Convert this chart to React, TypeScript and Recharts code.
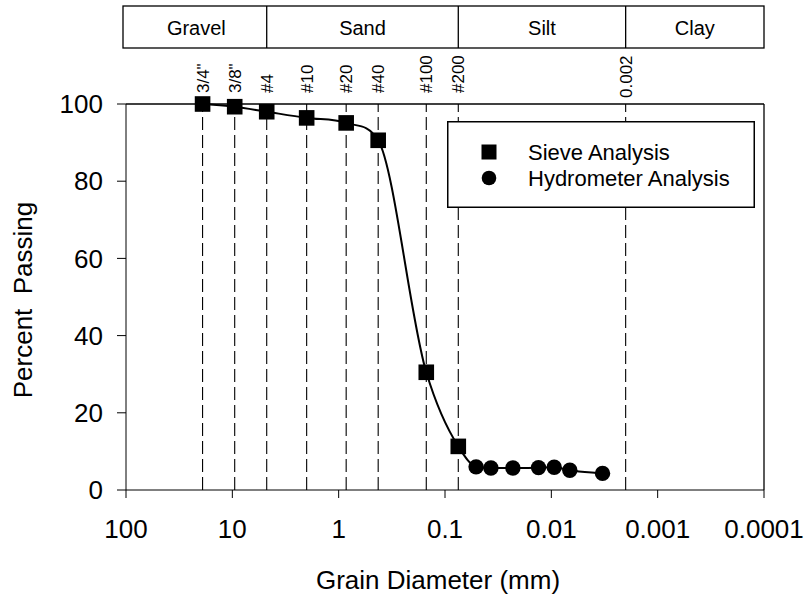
import React from 'react';
import { ComposedChart, Line, XAxis, YAxis, ReferenceLine, Legend } from 'recharts';

const FONT = '"Liberation Sans", Arial, Helvetica, sans-serif';

// sieve data (mm, % passing)
const sieveLabels = ['3/4"', '3/8"', '#4', '#10', '#20', '#40', '#100', '#200'];
const sieveSizes = [19.05, 9.5, 4.75, 2.0, 0.85, 0.425, 0.15, 0.075];
const sievePassing = [100, 99.3, 98.0, 96.4, 95.1, 90.6, 30.5, 11.3];

// hydrometer data
const hydroDiameters = [0.051, 0.037, 0.023, 0.0132, 0.0094, 0.0067, 0.0033];
const hydroPassing = [6.0, 5.7, 5.7, 5.8, 5.9, 5.1, 4.3];

const clayLimit = 0.002;
const soilClasses = ['Gravel', 'Sand', 'Silt', 'Clay'];
const classBounds = [100, 4.75, 0.075, 0.002, 0.0001];

const xTicks = [100, 10, 1, 0.1, 0.01, 0.001, 0.0001];
const yTicks = [0, 20, 40, 60, 80, 100];

const legendItems = [
  { name: 'Sieve Analysis', kind: 'sieve' },
  { name: 'Hydrometer Analysis', kind: 'hydro' },
];

const data = [
  ...sieveSizes.map((d, i) => ({ d, pct: sievePassing[i], kind: 'sieve' })),
  ...hydroDiameters.map((d, i) => ({ d, pct: hydroPassing[i], kind: 'hydro' })),
];

const guideLines = [
  ...sieveSizes.map((d, i) => ({ d, label: sieveLabels[i] })),
  { d: clayLimit, label: '0.002' },
];

const innerBounds = classBounds.slice(1, -1);

// cubic spline, 3-point tangents limited Fritsch-Carlson style (no overshoot)
const smoothCurve = (context: any) => {
  let xs: number[] = [];
  let ys: number[] = [];
  return {
    areaStart() {},
    areaEnd() {},
    lineStart() {
      xs = [];
      ys = [];
    },
    point(x: number, y: number) {
      xs.push(+x);
      ys.push(+y);
    },
    lineEnd() {
      const n = xs.length;
      if (!n) return;
      context.moveTo(xs[0], ys[0]);
      if (n === 1) return;
      const h: number[] = [];
      const s: number[] = [];
      for (let i = 0; i < n - 1; i++) {
        h[i] = xs[i + 1] - xs[i];
        s[i] = (ys[i + 1] - ys[i]) / h[i];
      }
      const t: number[] = [];
      for (let i = 0; i < n; i++) {
        if (i === 0) t[i] = s[0];
        else if (i === n - 1) t[i] = s[n - 2];
        else {
          const a = s[i - 1];
          const b = s[i];
          if (a * b <= 0) t[i] = 0;
          else {
            const p = (a * h[i] + b * h[i - 1]) / (h[i - 1] + h[i]);
            const lim = 3 * Math.min(Math.abs(a), Math.abs(b));
            t[i] = Math.sign(p) * Math.min(Math.abs(p), lim);
          }
        }
      }
      for (let i = 0; i < n - 1; i++) {
        const dx = h[i] / 3;
        context.bezierCurveTo(
          xs[i] + dx, ys[i] + dx * t[i],
          xs[i + 1] - dx, ys[i + 1] - dx * t[i + 1],
          xs[i + 1], ys[i + 1],
        );
      }
    },
  };
};

const renderDot = (p: any) => {
  const { cx, cy, payload, index } = p;
  if (cx == null || cy == null) return <g key={`dot-${index}`} />;
  if (payload.kind === 'sieve') {
    return <rect key={`dot-${index}`} x={cx - 7.8} y={cy - 7.8} width={15.6} height={15.6} fill="#000" />;
  }
  return <circle key={`dot-${index}`} cx={cx} cy={cy} r={7.7} fill="#000" />;
};

const GuideLabel = (props: any, text: string, d: number) => {
  const vb = props.viewBox || {};
  const x = vb.x;
  const bottom = d === clayLimit ? 98 : 93;
  return (
    <g>
      <text
        x={x + 6}
        y={bottom}
        transform={`rotate(-90, ${x + 6}, ${bottom})`}
        fontSize={17}
        fontFamily={FONT}
        fill="#000"
        textAnchor="start"
      >
        {text}
      </text>
      {innerBounds.includes(d) && (
        <line x1={x} x2={x} y1={6} y2={48} stroke="#000" strokeWidth={1.3} />
      )}
    </g>
  );
};

const ClassBox = (props: any) => {
  const vb = props.viewBox || {};
  return (
    <rect
      x={vb.x - 3}
      y={6}
      width={vb.width + 3}
      height={42}
      fill="none"
      stroke="#000"
      strokeWidth={1.3}
    />
  );
};

const ClassLabel = (props: any, text: string) => {
  const vb = props.viewBox || {};
  return (
    <text x={vb.x} y={35} fontSize={20} fontFamily={FONT} fill="#000" textAnchor="middle">
      {text}
    </text>
  );
};

const LegendBox = () => (
  <svg width={308} height={87} style={{ display: 'block' }}>
    <rect x={0.75} y={0.75} width={306.5} height={85.5} fill="#fff" stroke="#000" strokeWidth={1.5} />
    {legendItems.map((item, i) => {
      const cy = 31 + i * 26;
      return (
        <g key={item.name}>
          {item.kind === 'sieve' ? (
            <rect x={42 - 7.5} y={cy - 7.5} width={15} height={15} fill="#000" />
          ) : (
            <circle cx={42} cy={cy} r={7.3} fill="#000" />
          )}
          <text x={81} y={cy + 7.5} fontSize={22} fontFamily={FONT} fill="#000">
            {item.name}
          </text>
        </g>
      );
    })}
  </svg>
);

export default function App() {
  return (
    <div style={{ position: 'absolute', left: 0, top: 0, background: '#fff' }}>
      <ComposedChart
        width={809}
        height={599}
        data={data}
        margin={{ top: 104, right: 45, bottom: 0, left: 0 }}
      >
        <XAxis
          dataKey="d"
          type="number"
          scale="log"
          domain={[0.0001, 100]}
          allowDataOverflow
          reversed
          ticks={xTicks}
          tickFormatter={(v: number) => String(v)}
          tickSize={8}
          tickMargin={22}
          height={109}
          stroke="#000"
          tick={{ fill: '#000', fontSize: 26, fontFamily: FONT }}
          label={(p: any) => {
            const vb = p.viewBox || {};
            return (
              <text
                x={vb.x + vb.width / 2 - 7}
                y={vb.y + 99}
                fontSize={26}
                fontFamily={FONT}
                fill="#000"
                textAnchor="middle"
              >
                Grain Diameter (mm)
              </text>
            );
          }}
        />
        <YAxis
          type="number"
          domain={[0, 100]}
          ticks={yTicks}
          width={126}
          tickSize={9}
          tickMargin={14}
          stroke="#000"
          tick={{ fill: '#000', fontSize: 26, fontFamily: FONT }}
          label={(p: any) => {
            const vb = p.viewBox || {};
            const cy = vb.y + vb.height / 2 + 3;
            return (
              <text
                x={32}
                y={cy}
                transform={`rotate(-90, 32, ${cy})`}
                fontSize={26}
                fontFamily={FONT}
                fill="#000"
                textAnchor="middle"
              >
                {'Percent\u00A0\u00A0Passing'}
              </text>
            );
          }}
        />

        {guideLines.map((g) => (
          <ReferenceLine
            key={g.label}
            x={g.d}
            stroke="#000"
            strokeWidth={1.1}
            strokeDasharray="13 5"
            ifOverflow="visible"
            label={(p: any) => GuideLabel(p, g.label, g.d)}
          />
        ))}

        {soilClasses.map((name, i) => (
          <ReferenceLine
            key={name}
            x={Math.sqrt(classBounds[i] * classBounds[i + 1])}
            stroke="none"
            ifOverflow="visible"
            label={(p: any) => ClassLabel(p, name)}
          />
        ))}

        <ReferenceLine y={100} stroke="#000" strokeWidth={1.3} ifOverflow="visible" label={ClassBox} />
        <ReferenceLine x={0.0001} stroke="#000" strokeWidth={1.3} ifOverflow="visible" />

        <Legend
          layout="vertical"
          align="center"
          verticalAlign="middle"
          content={LegendBox}
          wrapperStyle={{ left: 447, top: 121, width: 308, height: 87 }}
        />

        <Line
          dataKey="pct"
          type={smoothCurve as any}
          stroke="#000"
          strokeWidth={2}
          dot={renderDot}
          activeDot={false}
          isAnimationActive={false}
        />
      </ComposedChart>
    </div>
  );
}
